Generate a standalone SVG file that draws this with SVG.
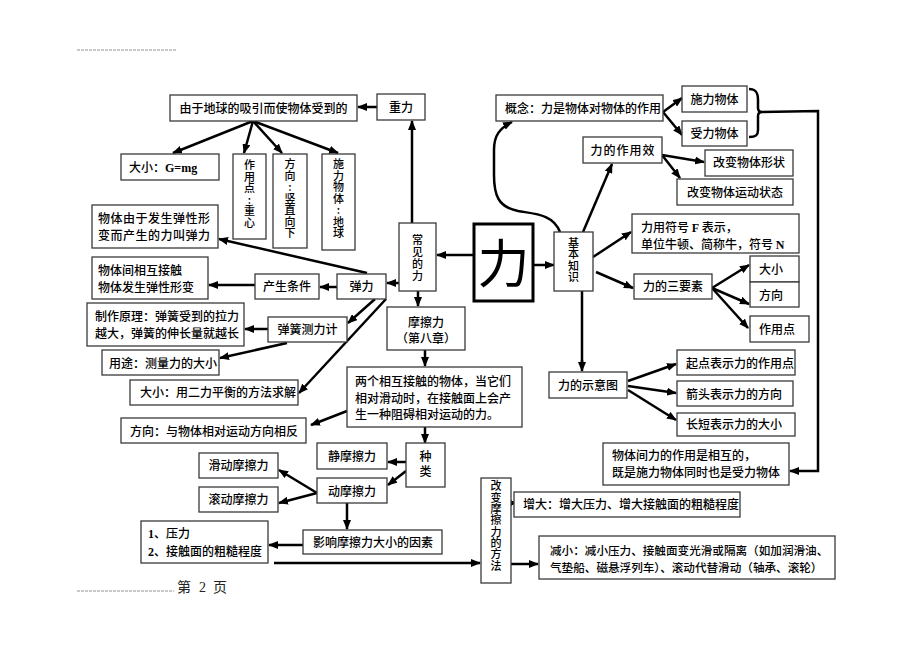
<svg xmlns="http://www.w3.org/2000/svg" width="920" height="651" viewBox="0 0 920 651">
<style>
.b{fill:#fff;stroke:#3a3a3a;stroke-width:1.3}
.t{font-family:"Noto Sans CJK SC",sans-serif;font-size:12px;font-weight:500;fill:#000}
.v{font-size:11px;writing-mode:vertical-rl;text-orientation:upright;letter-spacing:0.5px;text-anchor:middle}
.m{text-anchor:middle}
.s{font-family:"Liberation Serif",serif;font-weight:bold}
.c{stroke:#000;stroke-width:2.5;fill:none}
.a{marker-end:url(#ah)}
.d{stroke:#c8c8c8;stroke-width:2;stroke-dasharray:3 1}
</style>
<defs>
<marker id="ah" markerUnits="userSpaceOnUse" markerWidth="10" markerHeight="8" viewBox="0 0 10 8" refX="9" refY="4" orient="auto">
<path d="M0,0 L10,4 L0,8 z" fill="#000"/>
</marker>
</defs>
<rect width="920" height="651" fill="#fff"/>
<line class="d" x1="77" y1="50" x2="176" y2="50"/>
<line class="d" x1="77" y1="591" x2="174" y2="591"/>
<text style="font-family:'Liberation Serif','Noto Sans CJK SC',serif;font-size:14px;fill:#222"><tspan x="177" y="592">第</tspan><tspan x="199" y="592">2</tspan><tspan x="213" y="592">页</tspan></text>

<g id="connectors">
<line class="c a" x1="377" y1="107" x2="358" y2="107"/>
<line class="c a" x1="412" y1="223" x2="412" y2="121"/>
<line class="c a" x1="253" y1="121" x2="173" y2="153"/>
<line class="c a" x1="253" y1="121" x2="244" y2="153"/>
<line class="c a" x1="253" y1="121" x2="282" y2="153"/>
<line class="c a" x1="253" y1="121" x2="338" y2="153"/>
<line class="c a" x1="474" y1="255" x2="437" y2="255"/>
<line class="c a" x1="533" y1="265" x2="554" y2="265"/>
<line class="c a" x1="399" y1="283" x2="387" y2="283"/>
<line class="c a" x1="337" y1="287" x2="320" y2="287"/>
<line class="c a" x1="255" y1="285" x2="209" y2="285"/>
<line class="c a" x1="367" y1="273" x2="219" y2="239"/>
<line class="c a" x1="375" y1="299" x2="348" y2="323"/>
<line class="c a" x1="386" y1="299" x2="299" y2="393"/>
<line class="c a" x1="268" y1="329" x2="245" y2="329"/>
<line class="c a" x1="287" y1="343" x2="220" y2="358"/>
<line class="c a" x1="418" y1="291" x2="418" y2="306"/>
<line class="c a" x1="425" y1="350" x2="425" y2="366"/>
<line class="c a" x1="347" y1="411" x2="311" y2="425"/>
<line class="c a" x1="425" y1="427" x2="425" y2="443"/>
<line class="c a" x1="406" y1="462" x2="388" y2="462"/>
<line class="c a" x1="406" y1="471" x2="388" y2="485"/>
<line class="c a" x1="317" y1="493" x2="279" y2="470"/>
<line class="c a" x1="317" y1="493" x2="279" y2="503"/>
<line class="c a" x1="347" y1="503" x2="347" y2="529"/>
<line class="c a" x1="303" y1="545" x2="269" y2="545"/>
<line class="c a" x1="274" y1="563" x2="480" y2="563"/>
<line class="c a" x1="511" y1="564" x2="538" y2="564"/>
<path d="M511,503 L514,503 M510,500 L515,503 L510,506 z" fill="#000" stroke="#000" stroke-width="1"/>
<line class="c a" x1="663" y1="112" x2="682" y2="98"/>
<line class="c a" x1="663" y1="112" x2="682" y2="135"/>
<line class="c a" x1="662" y1="155" x2="704" y2="162"/>
<line class="c a" x1="662" y1="155" x2="680" y2="178"/>
<line class="c a" x1="583" y1="232" x2="612" y2="164"/>
<path class="c a" d="M560,232 C553,214 535,214 518,211 C498,207 494,195 494,175 L494,150 C494,135 500,128 512,122"/>
<line class="c a" x1="593" y1="257" x2="631" y2="232"/>
<line class="c a" x1="596" y1="272" x2="633" y2="288"/>
<line class="c a" x1="712" y1="288" x2="749" y2="265"/>
<line class="c a" x1="712" y1="288" x2="749" y2="304"/>
<line class="c a" x1="712" y1="288" x2="748" y2="328"/>
<line class="c" x1="582" y1="291" x2="582" y2="364"/>
<line class="c a" x1="582" y1="360" x2="582" y2="371"/>
<line class="c a" x1="628" y1="381" x2="676" y2="364"/>
<line class="c a" x1="628" y1="386" x2="676" y2="393"/>
<line class="c a" x1="628" y1="390" x2="676" y2="420"/>
<path class="c" d="M749,89 C756,89 758,93 758,100 L758,108 Q758,112 762,112 Q758,112 758,116 L758,130 C758,135 756,137 749,137"/>
<path class="c a" d="M762,112 L818,111 L818,471 L790,471"/>
</g>

<g id="n-gravity-def"><rect class="b" x="170" y="95" width="187" height="26"/><text class="t m" x="263.5" y="112.5">由于地球的吸引而使物体受到的</text></g>
<g id="n-gravity"><rect class="b" x="377" y="94" width="48" height="26"/><text class="t m" x="401" y="112">重力</text></g>
<g id="n-gmg"><rect class="b" x="121" y="154" width="98" height="26"/><text class="t" x="129" y="171.5">大小：<tspan class="s">G=mg</tspan></text></g>
<g id="n-gpoint"><rect class="b" x="233" y="154" width="33" height="85"/><text class="t v" x="249.5" y="194">作用点:重心</text></g>
<g id="n-gdir"><rect class="b" x="273" y="154" width="34" height="94"/><text class="t v" x="290" y="199">方向:竖直向下</text></g>
<g id="n-gsrc"><rect class="b" x="322" y="154" width="33" height="96"/><text class="t v" x="338.5" y="199">施力物体:地球</text></g>
<g id="n-elastic-def"><rect class="b" x="92" y="205" width="126" height="43"/><text class="t" style="letter-spacing:0.5px"><tspan x="98" y="222.5">物体由于发生弹性形</tspan><tspan x="98" y="240">变而产生的力叫弹力</tspan></text></g>
<g id="n-cond-detail"><rect class="b" x="92" y="257" width="116" height="42"/><text class="t"><tspan x="98" y="274.5">物体间相互接触</tspan><tspan x="98" y="291.5">物体发生弹性形变</tspan></text></g>
<g id="n-cond"><rect class="b" x="255" y="274" width="64" height="25"/><text class="t m" x="287" y="291">产生条件</text></g>
<g id="n-elastic"><rect class="b" x="337" y="274" width="49" height="25"/><text class="t m" x="361.5" y="291">弹力</text></g>
<g id="n-common"><rect class="b" x="399" y="223" width="37" height="68"/><text class="t v" x="417.5" y="258" style="letter-spacing:1px">常见的力</text></g>
<g id="n-li"><rect x="474" y="224" width="59" height="77" fill="#fff" stroke="#000" stroke-width="3"/><text class="m" x="503.5" y="283" style="font-family:'Noto Sans CJK SC',sans-serif;font-size:52px;fill:#000">力</text></g>
<g id="n-basic"><rect class="b" x="554" y="232" width="39" height="59"/><text class="t v" x="573.5" y="260">基本知识</text></g>
<g id="n-friction"><rect class="b" x="387" y="307" width="78" height="43"/><text class="t m"><tspan x="426" y="326.5">摩擦力</tspan><tspan x="426" y="342.5">（第八章）</tspan></text></g>
<g id="n-spring-principle"><rect class="b" x="87" y="303" width="157" height="43"/><text class="t"><tspan x="95" y="320.5">制作原理：弹簧受到的拉力</tspan><tspan x="95" y="337.5">越大，弹簧的伸长量就越长</tspan></text></g>
<g id="n-spring"><rect class="b" x="268" y="317" width="79" height="25"/><text class="t m" x="307.5" y="334">弹簧测力计</text></g>
<g id="n-use"><rect class="b" x="102" y="350" width="117" height="25"/><text class="t" x="109" y="367.5">用途：测量力的大小</text></g>
<g id="n-size-balance"><rect class="b" x="130" y="380" width="168" height="25"/><text class="t" x="140" y="396.5">大小：用二力平衡的方法求解</text></g>
<g id="n-friction-def"><rect class="b" x="347" y="367" width="175" height="60"/><text class="t"><tspan x="355" y="386">两个相互接触的物体，当它们</tspan><tspan x="355" y="402.5">相对滑动时，在接触面上会产</tspan><tspan x="355" y="418.5">生一种阻碍相对运动的力。</tspan></text></g>
<g id="n-fdir"><rect class="b" x="121" y="418" width="185" height="25"/><text class="t" x="130" y="435.5">方向：与物体相对运动方向相反</text></g>
<g id="n-kind"><rect class="b" x="406" y="443" width="39" height="44"/><text class="t v" x="425.5" y="465" style="font-size:12px;letter-spacing:3px">种类</text></g>
<g id="n-static"><rect class="b" x="317" y="443" width="70" height="26"/><text class="t m" x="352" y="461">静摩擦力</text></g>
<g id="n-dynamic"><rect class="b" x="317" y="478" width="70" height="25"/><text class="t m" x="352" y="495.5">动摩擦力</text></g>
<g id="n-slide"><rect class="b" x="199" y="453" width="79" height="25"/><text class="t m" x="238.5" y="470">滑动摩擦力</text></g>
<g id="n-roll"><rect class="b" x="199" y="487" width="79" height="25"/><text class="t m" x="238.5" y="504">滚动摩擦力</text></g>
<g id="n-factor"><rect class="b" x="303" y="530" width="139" height="24"/><text class="t" x="313" y="546.5">影响摩擦力大小的因素</text></g>
<g id="n-factor-list"><rect class="b" x="141" y="521" width="127" height="42"/><text class="t"><tspan x="148" y="538"><tspan class="s">1</tspan>、压力</tspan><tspan x="148" y="556"><tspan class="s">2</tspan>、接触面的粗糙程度</tspan></text></g>
<g id="n-change"><rect class="b" x="481" y="478" width="30" height="105"/><text class="t v" x="496" y="526" style="letter-spacing:0.3px">改变摩擦力的方法</text></g>
<g id="n-increase"><rect class="b" x="514" y="492" width="226" height="25"/><text class="t" x="523" y="508.5">增大：增大压力、增大接触面的粗糙程度</text></g>
<g id="n-decrease"><rect class="b" x="539" y="536" width="296" height="43"/><text class="t" style="font-size:11.6px"><tspan x="550" y="554.5">减小：减小压力、接触面变光滑或隔离（如加润滑油、</tspan><tspan x="550" y="571.5">气垫船、磁悬浮列车）、滚动代替滑动（轴承、滚轮）</tspan></text></g>
<g id="n-concept"><rect class="b" x="496" y="95" width="167" height="26"/><text class="t" x="505" y="112.5">概念：力是物体对物体的作用</text></g>
<g id="n-exert"><rect class="b" x="682" y="86" width="65" height="26"/><text class="t m" x="714.5" y="103.5">施力物体</text></g>
<g id="n-receive"><rect class="b" x="682" y="121" width="65" height="25"/><text class="t m" x="714.5" y="137.5">受力物体</text></g>
<g id="n-effect"><rect class="b" x="583" y="137" width="79" height="26"/><text class="t m" x="623" y="154.5" style="letter-spacing:1px">力的作用效</text></g>
<g id="n-shape"><rect class="b" x="705" y="150" width="88" height="26"/><text class="t m" x="749" y="167">改变物体形状</text></g>
<g id="n-motion"><rect class="b" x="677" y="179" width="116" height="26"/><text class="t m" x="735" y="196.5">改变物体运动状态</text></g>
<g id="n-symbol"><rect class="b" x="632" y="214" width="167" height="39"/><text class="t"><tspan x="641" y="231.5">力用符号 <tspan class="s">F</tspan> 表示，</tspan><tspan x="641" y="248.5">单位牛顿、简称牛，符号 <tspan class="s">N</tspan></tspan></text></g>
<g id="n-three"><rect class="b" x="634" y="274" width="78" height="25"/><text class="t" x="643" y="291">力的三要素</text></g>
<g id="n-size"><rect class="b" x="750" y="256" width="49" height="26"/><text class="t" x="759" y="273.5">大小</text></g>
<g id="n-direction"><rect class="b" x="750" y="282" width="49" height="25"/><text class="t" x="759" y="299.5">方向</text></g>
<g id="n-point"><rect class="b" x="750" y="316" width="59" height="26"/><text class="t" x="759" y="333.5">作用点</text></g>
<g id="n-diagram"><rect class="b" x="549" y="372" width="78" height="26"/><text class="t" x="558" y="389.5">力的示意图</text></g>
<g id="n-start"><rect class="b" x="677" y="350" width="118" height="25"/><text class="t" x="686" y="367.5">起点表示力的作用点</text></g>
<g id="n-arrowhead"><rect class="b" x="677" y="381" width="116" height="25"/><text class="t" x="686" y="398.5">箭头表示力的方向</text></g>
<g id="n-length"><rect class="b" x="677" y="413" width="118" height="23"/><text class="t" x="686" y="429">长短表示力的大小</text></g>
<g id="n-mutual"><rect class="b" x="603" y="443" width="186" height="42"/><text class="t"><tspan x="612" y="459.5">物体间力的作用是相互的，</tspan><tspan x="612" y="477">既是施力物体同时也是受力物体</tspan></text></g>
</svg>
